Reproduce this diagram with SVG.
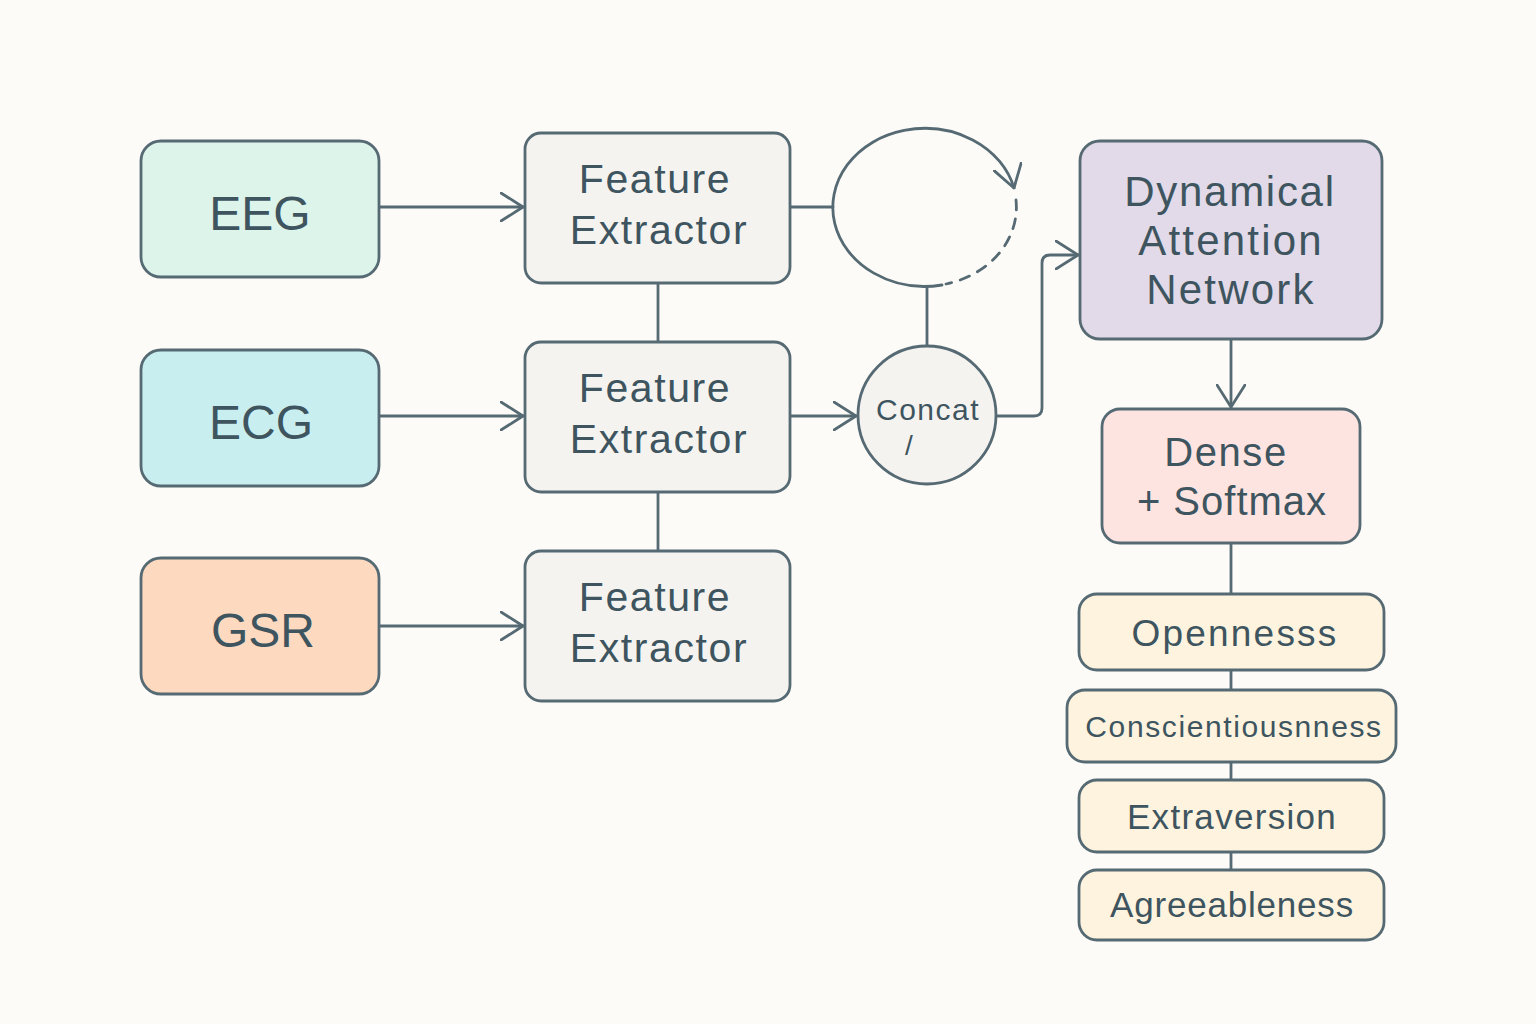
<svg xmlns="http://www.w3.org/2000/svg" width="1536" height="1024" viewBox="0 0 1536 1024">
<defs>
<style>
.n{stroke:#566a74;stroke-width:2.8}
.t{font-family:"Liberation Sans",Arial,sans-serif;fill:#3e5560;text-anchor:middle}
.c{fill:none;stroke:#566a74;stroke-width:2.8;stroke-linecap:round;stroke-linejoin:round}
.fe{font-size:41px;letter-spacing:1.6px}
</style>
<marker id="ah" viewBox="0 0 24 30" refX="23" refY="15" markerWidth="24" markerHeight="30" markerUnits="userSpaceOnUse" orient="auto">
<path d="M1,1 L23,15 L1,29" fill="none" stroke="#566a74" stroke-width="2.8" stroke-linecap="round" stroke-linejoin="round"/>
</marker>
</defs>
<rect width="1536" height="1024" fill="#fdfbf7"/>

<g id="connectors">
<line class="c" x1="379" y1="207" x2="523" y2="207" marker-end="url(#ah)"/>
<line class="c" x1="379" y1="416" x2="523" y2="416" marker-end="url(#ah)"/>
<line class="c" x1="379" y1="626" x2="523" y2="626" marker-end="url(#ah)"/>
<line class="c" x1="658" y1="283" x2="658" y2="342"/>
<line class="c" x1="658" y1="492" x2="658" y2="551"/>
<line class="c" x1="790" y1="207" x2="833" y2="207"/>
<line class="c" x1="790" y1="416" x2="856" y2="416" marker-end="url(#ah)"/>
<line class="c" x1="927" y1="287" x2="927" y2="345"/>
<path class="c" d="M997,416 H1034 Q1042,416 1042,408 V263 Q1042,255 1050,255 H1078" marker-end="url(#ah)"/>
<path class="c" d="M942,285 A92,79 0 1 1 1014,188" marker-end="url(#ah)"/>
<path class="c" d="M1016,200 A92,79 0 0 1 946,284" stroke-dasharray="10,9"/>
<line class="c" x1="1231" y1="339" x2="1231" y2="407" marker-end="url(#ah)"/>
<line class="c" x1="1231" y1="543" x2="1231" y2="594"/>
<line class="c" x1="1231" y1="670" x2="1231" y2="690"/>
<line class="c" x1="1231" y1="762" x2="1231" y2="780"/>
<line class="c" x1="1231" y1="852" x2="1231" y2="870"/>
</g>

<g id="eeg">
<rect class="n" x="141" y="141" width="238" height="136" rx="20" fill="#dcf4ea"/>
<text class="t" x="260" y="230" font-size="48">EEG</text>
</g>
<g id="ecg">
<rect class="n" x="141" y="350" width="238" height="136" rx="20" fill="#c9eef0"/>
<text class="t" x="261" y="439" font-size="48">ECG</text>
</g>
<g id="gsr">
<rect class="n" x="141" y="558" width="238" height="136" rx="20" fill="#fdd9c0"/>
<text class="t" x="263" y="647" font-size="48">GSR</text>
</g>

<g id="fe1">
<rect class="n" x="525" y="133" width="265" height="150" rx="16" fill="#f5f3f0"/>
<text class="t fe" x="655" y="193">Feature</text>
<text class="t fe" x="659" y="244">Extractor</text>
</g>
<g id="fe2">
<rect class="n" x="525" y="342" width="265" height="150" rx="16" fill="#f5f3f0"/>
<text class="t fe" x="655" y="402">Feature</text>
<text class="t fe" x="659" y="453">Extractor</text>
</g>
<g id="fe3">
<rect class="n" x="525" y="551" width="265" height="150" rx="16" fill="#f5f3f0"/>
<text class="t fe" x="655" y="611">Feature</text>
<text class="t fe" x="659" y="662">Extractor</text>
</g>

<g id="concat">
<circle class="n" cx="927" cy="415" r="69" fill="#f5f3f0"/>
<text class="t" x="928" y="420" font-size="30" letter-spacing="1.5">Concat</text>
<text class="t" x="909" y="455" font-size="28">/</text>
</g>

<g id="dan">
<rect class="n" x="1080" y="141" width="302" height="198" rx="20" fill="#e2dae8"/>
<text class="t" x="1230" y="206" font-size="42" letter-spacing="1.7">Dynamical</text>
<text class="t" x="1231" y="255" font-size="42" letter-spacing="2.2">Attention</text>
<text class="t" x="1231" y="304" font-size="42" letter-spacing="2.2">Network</text>
</g>

<g id="dense">
<rect class="n" x="1102" y="409" width="258" height="134" rx="18" fill="#fde4e1"/>
<text class="t" x="1226" y="466" font-size="40" letter-spacing="1.6">Dense</text>
<text class="t" x="1232" y="515" font-size="40" letter-spacing="1">+ Softmax</text>
</g>

<g id="openness">
<rect class="n" x="1079" y="594" width="305" height="76" rx="18" fill="#fdf3de"/>
<text class="t" x="1235" y="646" font-size="37" letter-spacing="2.2">Opennesss</text>
</g>
<g id="conscientiousness">
<rect class="n" x="1067" y="690" width="329" height="72" rx="18" fill="#fdf3de"/>
<text class="t" x="1234" y="737" font-size="30" letter-spacing="1.6">Conscientiousnness</text>
</g>
<g id="extraversion">
<rect class="n" x="1079" y="780" width="305" height="72" rx="18" fill="#fdf3de"/>
<text class="t" x="1232" y="829" font-size="35" letter-spacing="1.3">Extraversion</text>
</g>
<g id="agreeableness">
<rect class="n" x="1079" y="870" width="305" height="70" rx="18" fill="#fdf3de"/>
<text class="t" x="1232" y="917" font-size="35" letter-spacing="0.8">Agreeableness</text>
</g>
</svg>
